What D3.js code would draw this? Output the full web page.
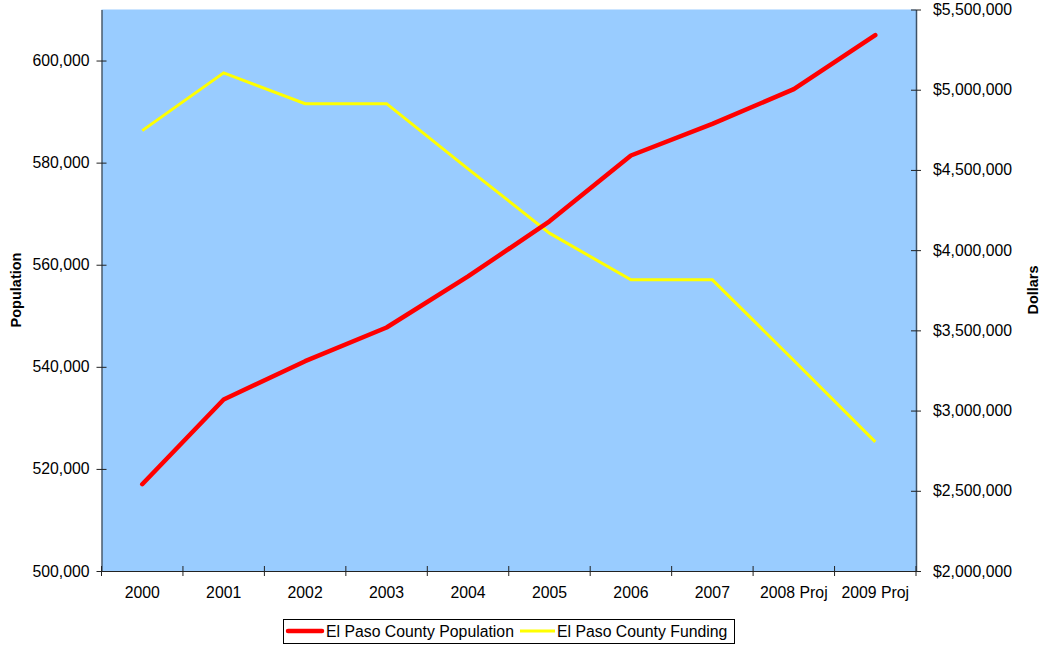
<!DOCTYPE html>
<html lang="en">
<head>
<meta charset="UTF-8">
<title>El Paso County</title>
<style>
  body { margin: 0; background: #fff; }
  svg text { font-family: "Liberation Sans", Arial, sans-serif; fill: #000; }
</style>
</head>
<body>
<svg width="1042" height="645"></svg>
<script src="https://d3js.org/d3.v7.min.js"></script>
<script>
var years = ['2000', '2001', '2002', '2003', '2004', '2005', '2006', '2007', '2008 Proj', '2009 Proj'];
var population = [517000, 533600, 541100, 547700, 557700, 568500, 581400, 587600, 594400, 605000];
var funding = [4745000, 5105000, 4913000, 4913000, 4507000, 4106000, 3815000, 3815000, 3312000, 2805000];
var popTicks = [500000, 520000, 540000, 560000, 580000, 600000];
var dollarTicks = [2000000, 2500000, 3000000, 3500000, 4000000, 4500000, 5000000, 5500000];

var marge = {top: 9.5, left: 101.5, right: 126, bottom: 74};
var fs = 15.8; // tick / legend font size
var svg = d3.select('svg');
var width = +svg.attr('width') - marge.left - marge.right;
var height = +svg.attr('height') - marge.top - marge.bottom;

var x = d3.scaleBand().domain(years).range([0, width]);
var yL = d3.scaleLinear().domain([500000, 610000]).range([height, 0]);
var yR = d3.scaleLinear().domain([2000000, 5500000]).range([height, 0]);

var g = svg.append('g').attr('transform', `translate(${marge.left}, ${marge.top})`);

g.append('rect').attr('width', width).attr('height', height).attr('fill', '#99ccff');

// left axis
var left = g.append('g').call(d3.axisLeft(yL).tickValues(popTicks).tickFormat(d3.format(',')).tickSizeOuter(0));
left.select('.domain').attr('stroke', '#222');
left.selectAll('.tick line').attr('x2', 5).attr('x1', -5).attr('stroke', '#222');
left.selectAll('.tick text').attr('x', -12).attr('font-size', fs);

// right axis
var right = g.append('g').attr('transform', `translate(${width},0)`)
  .call(d3.axisRight(yR).tickValues(dollarTicks).tickFormat(d => '$' + d3.format(',')(d)).tickSizeOuter(0));
right.select('.domain').attr('stroke', '#3d5166').attr('stroke-width', 1.5);
right.selectAll('.tick line').attr('x1', -5).attr('x2', 5).attr('stroke', '#222');
right.selectAll('.tick text').attr('x', 17).attr('font-size', fs);

// bottom axis, ticks at category boundaries
var bottom = g.append('g').attr('transform', `translate(0,${height})`)
  .call(d3.axisBottom(x).tickSize(0).tickSizeOuter(0));
bottom.select('.domain').attr('stroke', '#222');
bottom.selectAll('.tick text').attr('y', 16).attr('font-size', fs);
bottom.selectAll('.bound').data(years.concat(['end'])).enter().append('line')
  .attr('class', 'bound')
  .attr('x1', (d, i) => i * x.step()).attr('x2', (d, i) => i * x.step())
  .attr('y1', -5).attr('y2', 5).attr('stroke', '#222');

var cx = d => x(d) + x.bandwidth() / 2;

g.append('path').datum(funding)
  .attr('fill', 'none').attr('stroke', '#ffff00').attr('stroke-width', 3)
  .attr('d', d3.line().x((d, i) => cx(years[i])).y(d => yR(d)));

g.append('path').datum(population)
  .attr('fill', 'none').attr('stroke', '#ff0000').attr('stroke-width', 4.5)
  .attr('stroke-linecap', 'round').attr('stroke-linejoin', 'round')
  .attr('d', d3.line().x((d, i) => cx(years[i])).y(d => yL(d)));

// axis titles
svg.append('text').attr('transform', 'translate(21,290) rotate(-90)')
  .attr('text-anchor', 'middle').attr('font-size', 14.5).attr('font-weight', 'bold').text('Population');
svg.append('text').attr('transform', 'translate(1038,290) rotate(-90)')
  .attr('text-anchor', 'middle').attr('font-size', 14.5).attr('font-weight', 'bold').text('Dollars');

// legend
var lg = svg.append('g');
lg.append('rect').attr('x', 283.5).attr('y', 619.5).attr('width', 451).attr('height', 24)
  .attr('fill', '#fff').attr('stroke', '#000');
lg.append('line').attr('x1', 288).attr('x2', 322).attr('y1', 631).attr('y2', 631)
  .attr('stroke', '#ff0000').attr('stroke-width', 4.5).attr('stroke-linecap', 'round');
lg.append('text').attr('x', 326).attr('y', 637).attr('font-size', fs).text('El Paso County Population');
lg.append('line').attr('x1', 520).attr('x2', 555).attr('y1', 631).attr('y2', 631)
  .attr('stroke', '#ffff00').attr('stroke-width', 3);
lg.append('text').attr('x', 557).attr('y', 637).attr('font-size', fs).text('El Paso County Funding');
</script>
</body>
</html>
